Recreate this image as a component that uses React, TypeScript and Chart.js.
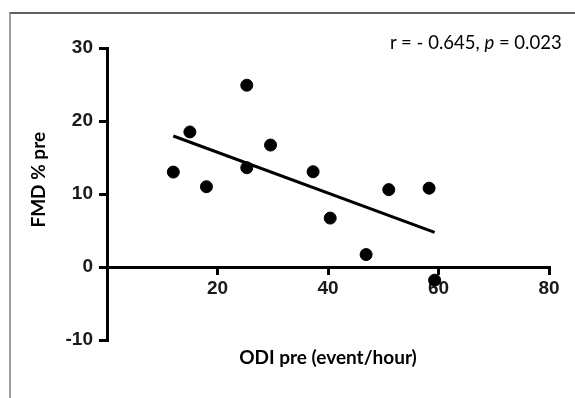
import React, { useEffect, useRef } from 'react';
import { Chart, registerables } from 'chart.js';

Chart.register(...registerables);

// ---- data ----
const odiPre = [12, 15, 18, 25.3, 25.3, 29.6, 37.3, 40.4, 46.9, 51, 58.3, 59.3];
const fmdPre = [13, 18.5, 11, 24.9, 13.6, 16.7, 13.05, 6.7, 1.7, 10.6, 10.8, -1.8];
const xTicks = [20, 40, 60, 80];
const yTicks = [-10, 0, 10, 20, 30];
const xRange = [0, 80];
const yRange = [-10, 30];
const xTitle = 'ODI pre (event/hour)';
const yTitle = 'FMD % pre';
const statR = '- 0.645';
const statP = '0.023';

function regression(xs: number[], ys: number[]) {
  const n = xs.length;
  const mx = xs.reduce((a, b) => a + b, 0) / n;
  const my = ys.reduce((a, b) => a + b, 0) / n;
  let sxy = 0;
  let sxx = 0;
  for (let i = 0; i < n; i++) {
    sxy += (xs[i] - mx) * (ys[i] - my);
    sxx += (xs[i] - mx) * (xs[i] - mx);
  }
  const slope = sxy / sxx;
  const icpt = my - slope * mx;
  const x0 = Math.min(...xs);
  const x1 = Math.max(...xs);
  return [
    { x: x0, y: icpt + slope * x0 },
    { x: x1, y: icpt + slope * x1 },
  ];
}

export default function App() {
  const ref = useRef<HTMLCanvasElement | null>(null);

  useEffect(() => {
    if (!ref.current) return;
    const points = odiPre.map((x, i) => ({ x, y: fmdPre[i] }));
    const fit = regression(odiPre, fmdPre);
    const tickFont = { family: '"Liberation Sans", Arial, sans-serif', size: 19, weight: 'bold' as const };
    const titleFont = { family: 'Lato, sans-serif', size: 19, weight: 'bold' as const };

    const chart = new Chart(ref.current, {
      type: 'scatter',
      data: {
        datasets: [
          {
            data: fit,
            showLine: true,
            borderColor: '#000',
            borderWidth: 3,
            pointRadius: 0,
            pointHoverRadius: 0,
          },
          {
            data: points,
            backgroundColor: '#000',
            borderColor: '#000',
            pointRadius: 6,
            pointHoverRadius: 6,
          },
        ],
      },
      options: {
        animation: false,
        responsive: false,
        devicePixelRatio: 1,
        layout: { padding: { left: 0, top: 48, right: 26, bottom: 58 } },
        plugins: { legend: { display: false }, tooltip: { enabled: false } },
        scales: {
          x: {
            type: 'linear',
            position: { y: 0 },
            min: xRange[0],
            max: xRange[1],
            afterBuildTicks: (s: any) => {
              s.ticks = xTicks.map((v) => ({ value: v }));
            },
            afterFit: (s: any) => {
              s.height = 58;
            },
            border: { display: true, color: '#000', width: 3 },
            grid: { drawOnChartArea: false, drawTicks: true, tickLength: 6, color: '#000', lineWidth: 3 },
            ticks: { color: '#1a1a1a', font: tickFont, padding: 4, maxRotation: 0 },
            title: { display: true, text: xTitle, color: '#000', font: titleFont, padding: { top: 0, bottom: -44 } },
          },
          y: {
            type: 'linear',
            position: 'left',
            min: yRange[0],
            max: yRange[1],
            afterBuildTicks: (s: any) => {
              s.ticks = yTicks.map((v) => ({ value: v }));
            },
            afterFit: (s: any) => {
              s.width = 107;
            },
            border: { display: true, color: '#000', width: 3 },
            grid: { drawOnChartArea: false, drawTicks: true, tickLength: 8, color: '#000', lineWidth: 3 },
            ticks: { color: '#1a1a1a', font: tickFont, padding: 6 },
            title: {
              display: true,
              text: '\u2002\u2002\u2002' + yTitle,
              color: '#000',
              font: titleFont,
              padding: { top: 27, bottom: 0 },
            },
          },
        },
      },
    });
    return () => chart.destroy();
  }, []);

  return (
    <div style={{ position: 'fixed', left: 0, top: 0, width: 575, height: 398, background: '#fff', overflow: 'hidden' }}>
      <canvas ref={ref} width={575} height={398} style={{ position: 'absolute', left: 0, top: 0, width: 575, height: 398 }} />
      <div
        style={{
          position: 'absolute',
          left: 9,
          top: 12,
          right: -4,
          bottom: -4,
          borderTop: '2px solid #606060',
          borderLeft: '2px solid #a0a0a0',
          pointerEvents: 'none',
        }}
      />
      <div
        style={{
          position: 'absolute',
          left: 390,
          top: 31,
          fontFamily: 'Lato, sans-serif',
          fontSize: 18.5,
          lineHeight: '22px',
          color: '#000',
          whiteSpace: 'pre',
        }}
      >
        {'r = ' + statR + ', '}
        <i>p</i>
        {' = ' + statP}
      </div>
    </div>
  );
}
